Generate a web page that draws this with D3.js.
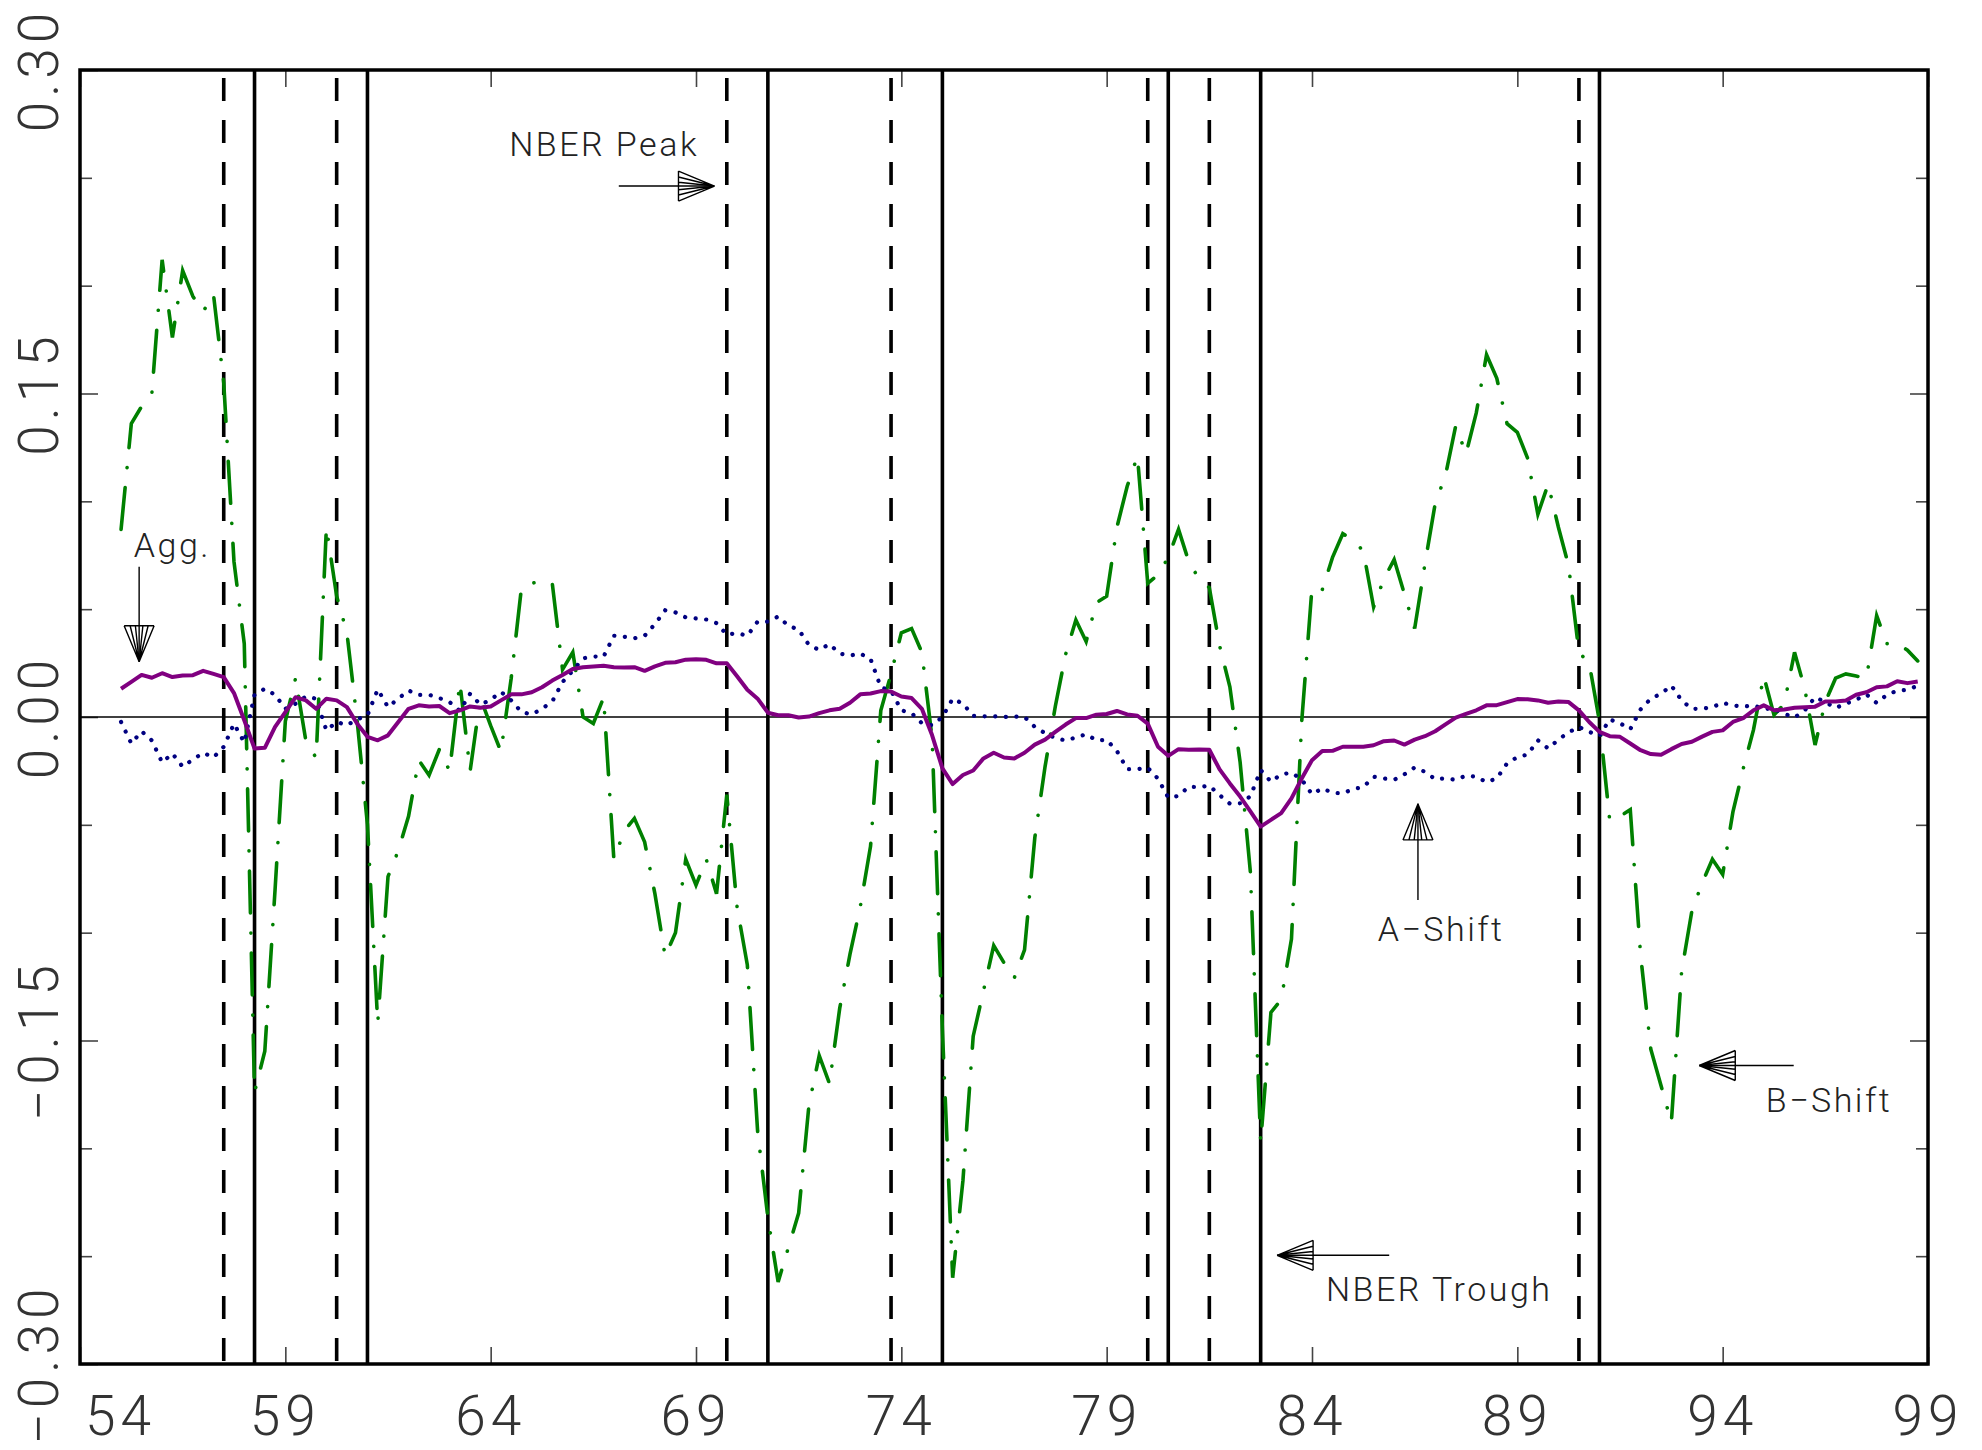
<!DOCTYPE html>
<meta charset="utf-8">
<html lang="en">

<style>
body { margin: 0; background: #fff; }

.frame {
  fill: none;
  stroke: #000;
  stroke-width: 3.5px;
}
.tick line {
  stroke: #444;
  stroke-width: 1.6px;
}
.nber {
  stroke: #000;
  stroke-width: 3.6px;
}
.peak {
  stroke-dasharray: 23 19;
  stroke-dashoffset: 34;
}
.zero {
  stroke: #000;
  stroke-width: 1.6px;
}
.agg {
  fill: none;
  stroke: #800080;
  stroke-width: 4px;
  stroke-linejoin: round;
}
.ashift {
  fill: none;
  stroke: #000080;
  stroke-width: 4.2px;
  stroke-linecap: round;
  stroke-dasharray: 0.1 10.5;
}
.bshift {
  fill: none;
  stroke: #008000;
  stroke-width: 3.6px;
  stroke-linecap: round;
  stroke-dasharray: 42 20 0.1 20;
}
.lab {
  font: 300 55px Roboto, "Liberation Sans", sans-serif;
  fill: #333;
  letter-spacing: 5px;
}
.note {
  font: 300 34px Roboto, "Liberation Sans", sans-serif;
  fill: #222;
  letter-spacing: 2.5px;
}
.arrow {
  fill: none;
  stroke: #000;
  stroke-width: 1.4px;
}
</style>
<body>
<div id="chart"></div>

<script src="https://d3js.org/d3.v7.min.js"></script>
<script>
// quarterly series, first point = 1955Q1 (x = 55.00), step 0.25
var startYear = 55;

var agg = [
  0.0131, 0.0163, 0.0195, 0.0182, 0.0203, 0.0185, 0.0192, 0.0194, 0.0214, 0.0200,
  0.0185, 0.0111, -0.0015, -0.0146, -0.0143, -0.0046, 0.0023, 0.0092, 0.0077, 0.0038,
  0.0085, 0.0077, 0.0046, -0.0031, -0.0092, -0.0108, -0.0085, -0.0023, 0.0038, 0.0054,
  0.0049, 0.0051, 0.0018, 0.0031, 0.0049, 0.0043, 0.0049, 0.0077, 0.0105, 0.0105,
  0.0115, 0.0138, 0.0169, 0.0195, 0.0223, 0.0231, 0.0234, 0.0238, 0.0231, 0.0229,
  0.0231, 0.0214, 0.0235, 0.0251, 0.0254, 0.0266, 0.0268, 0.0265, 0.0249, 0.0249,
  0.0189, 0.0126, 0.0085, 0.0020, 0.0008, 0.0008, -0.0002, 0.0002, 0.0018, 0.0031,
  0.0038, 0.0066, 0.0105, 0.0109, 0.0120, 0.0118, 0.0095, 0.0088, 0.0038, -0.0085,
  -0.0238, -0.0311, -0.0269, -0.0248, -0.0192, -0.0166, -0.0188, -0.0192, -0.0166, -0.0128,
  -0.0105, -0.0069, -0.0035, -0.0005, -0.0005, 0.0011, 0.0014, 0.0028, 0.0012, 0.0006,
  -0.0031, -0.0138, -0.0180, -0.0149, -0.0152, -0.0151, -0.0152, -0.0243, -0.0308, -0.0369,
  -0.0438, -0.0508, -0.0477, -0.0446, -0.0377, -0.0285, -0.0200, -0.0158, -0.0157, -0.0138,
  -0.0138, -0.0138, -0.0131, -0.0112, -0.0109, -0.0128, -0.0105, -0.0089, -0.0066, -0.0034,
  -0.0003, 0.0014, 0.0031, 0.0054, 0.0055, 0.0069, 0.0083, 0.0082, 0.0077, 0.0066,
  0.0072, 0.0069, 0.0031, -0.0023, -0.0069, -0.0089, -0.0092, -0.0123, -0.0154, -0.0172,
  -0.0175, -0.0149, -0.0125, -0.0115, -0.0091, -0.0069, -0.0062, -0.0023, -0.0005, 0.0031,
  0.0054, 0.0031, 0.0035, 0.0043, 0.0045, 0.0048, 0.0072, 0.0072, 0.0077, 0.0103,
  0.0115, 0.0138, 0.0142, 0.0166, 0.0157, 0.0165
];

var aShift = [
  -0.0023, -0.0123, -0.0066, -0.0109, -0.0211, -0.0169, -0.0231, -0.0197, -0.0166, -0.0188,
  -0.0138, -0.0031, -0.0118, 0.0103, 0.0131, 0.0103, 0.0038, 0.0062, 0.0095, 0.0085,
  -0.0062, -0.0023, -0.0038, -0.0011, 0.0008, 0.0128, 0.0046, 0.0085, 0.0123, 0.0102,
  0.0103, 0.0088, 0.0069, 0.0029, 0.0108, 0.0057, 0.0080, 0.0117, 0.0077, 0.0023,
  0.0012, 0.0038, 0.0072, 0.0162, 0.0215, 0.0272, 0.0280, 0.0280, 0.0377, 0.0372,
  0.0365, 0.0377, 0.0431, 0.0495, 0.0485, 0.0462, 0.0457, 0.0452, 0.0435, 0.0382,
  0.0389, 0.0377, 0.0442, 0.0442, 0.0466, 0.0423, 0.0405, 0.0334, 0.0311, 0.0338,
  0.0294, 0.0285, 0.0294, 0.0269, 0.0138, 0.0122, 0.0031, 0.0018, -0.0029, -0.0038,
  0.0000, 0.0085, 0.0062, 0.0005, 0.0003, 0.0003, 0.0000, 0.0002, 0.0000, -0.0046,
  -0.0075, -0.0097, -0.0109, -0.0095, -0.0080, -0.0108, -0.0106, -0.0158, -0.0242, -0.0242,
  -0.0235, -0.0286, -0.0374, -0.0366, -0.0323, -0.0326, -0.0318, -0.0362, -0.0402, -0.0400,
  -0.0368, -0.0246, -0.0300, -0.0266, -0.0258, -0.0290, -0.0358, -0.0331, -0.0351, -0.0354,
  -0.0334, -0.0325, -0.0277, -0.0285, -0.0291, -0.0266, -0.0234, -0.0254, -0.0288, -0.0285,
  -0.0291, -0.0272, -0.0277, -0.0302, -0.0285, -0.0215, -0.0186, -0.0174, -0.0108, -0.0146,
  -0.0105, -0.0071, -0.0046, -0.0069, -0.0088, -0.0011, -0.0029, -0.0057, 0.0035, 0.0085,
  0.0108, 0.0146, 0.0077, 0.0038, 0.0038, 0.0046, 0.0066, 0.0054, 0.0048, 0.0054,
  0.0038, 0.0038, 0.0015, -0.0002, 0.0031, 0.0092, 0.0069, 0.0042, 0.0062, 0.0080,
  0.0105, 0.0065, 0.0103, 0.0122, 0.0126, 0.0145
];

var bShift = [
  0.087, 0.136, 0.144, 0.150, 0.212, 0.176, 0.207, 0.195, 0.188, 0.196,
  0.155, 0.072, 0.034, -0.174, -0.155, -0.080, -0.002, 0.018, -0.011, -0.019,
  0.088, 0.056, 0.039, -0.002, -0.050, -0.142, -0.074, -0.062, -0.046, -0.020,
  -0.027, -0.015, -0.025, 0.016, -0.025, 0.009, -0.004, -0.016, 0.018, 0.060,
  0.062, 0.063, 0.062, 0.022, 0.030, 0.000, -0.003, 0.009, -0.066, -0.053,
  -0.047, -0.058, -0.082, -0.111, -0.100, -0.066, -0.078, -0.066, -0.082, -0.036,
  -0.088, -0.115, -0.192, -0.232, -0.262, -0.246, -0.230, -0.180, -0.157, -0.170,
  -0.135, -0.110, -0.088, -0.060, 0.003, 0.020, 0.039, 0.041, 0.030, -0.010,
  -0.145, -0.260, -0.215, -0.148, -0.127, -0.106, -0.114, -0.121, -0.108, -0.056,
  -0.023, 0.005, 0.029, 0.045, 0.035, 0.053, 0.056, 0.088, 0.107, 0.121,
  0.062, 0.066, 0.074, 0.087, 0.072, 0.064, 0.060, 0.033, 0.014, -0.021,
  -0.072, -0.197, -0.137, -0.131, -0.103, -0.002, 0.060, 0.059, 0.074, 0.085,
  0.082, 0.077, 0.051, 0.064, 0.073, 0.057, 0.041, 0.071, 0.099, 0.112,
  0.135, 0.122, 0.141, 0.168, 0.157, 0.136, 0.132, 0.120, 0.094, 0.108,
  0.088, 0.070, 0.030, 0.025, -0.002, -0.048, -0.046, -0.043, -0.110, -0.154,
  -0.171, -0.188, -0.118, -0.090, -0.077, -0.066, -0.073, -0.044, -0.024, -0.006,
  0.019, 0.001, 0.006, 0.030, 0.013, -0.013, 0.007, 0.018, 0.020, 0.019,
  0.018, 0.047, 0.034, 0.034, 0.031, 0.026
];

// NBER reference dates (quarters as decimal years)
var peaks = [57.5, 60.25, 69.75, 73.75, 80.0, 81.5, 90.5];
var troughs = [58.25, 61.0, 70.75, 75.0, 80.5, 82.75, 91.0];

var xTicks = [54, 59, 64, 69, 74, 79, 84, 89, 94, 99];
var yTicks = [-0.30, -0.15, 0.00, 0.15, 0.30];
var yMinor = [-0.25, -0.20, -0.10, -0.05, 0.05, 0.10, 0.20, 0.25];

// labels with their arrows, in data units
var notes = [
  {text: "NBER Peak",   at: [64.45, 0.260],  from: [67.12, 0.2462],  to: [69.45, 0.2462]},
  {text: "Agg.",        at: [55.31, 0.0742], from: [55.44, 0.0697],  to: [55.44, 0.0256]},
  {text: "A\u2212Shift", at: [85.60, -0.104], from: [86.58, -0.0849], to: [86.58, -0.0403]},
  {text: "B\u2212Shift", at: [95.05, -0.183], from: [95.73, -0.1616], to: [93.43, -0.1616]},
  {text: "NBER Trough", at: [84.34, -0.271], from: [85.88, -0.2496], to: [83.15, -0.2496]}
];

var width = 1982,
    height = 1450,
    margin = {top: 70, right: 54, bottom: 86, left: 80};

var x = d3.scaleLinear()
    .domain([54, 99])
    .range([margin.left, width - margin.right]);
var y = d3.scaleLinear()
    .domain([-0.30, 0.30])
    .range([height - margin.bottom, margin.top]);

var svg = d3.select("#chart").append("svg")
    .attr("width", width)
    .attr("height", height);

function quarter(i) { return startYear + i / 4; }

var line = d3.line()
    .x(function(d, i) { return x(quarter(i)); })
    .y(function(d) { return y(d); });

// ticks on all four sides, pointing inwards
function tickAxis(axis, tx, ty, size, values) {
  var g = svg.append("g")
      .attr("transform", "translate(" + tx + "," + ty + ")")
      .call(axis.tickValues(values).tickSize(-size).tickFormat(""));
  g.select(".domain").remove();
  return g;
}
tickAxis(d3.axisTop(x), 0, y(0.30), 17, xTicks);
tickAxis(d3.axisBottom(x), 0, y(-0.30), 17, xTicks);
tickAxis(d3.axisLeft(y), x(54), 0, 12, yMinor);
tickAxis(d3.axisLeft(y), x(54), 0, 18, yTicks);
tickAxis(d3.axisRight(y), x(99), 0, 12, yMinor);
tickAxis(d3.axisRight(y), x(99), 0, 18, yTicks);

// x labels
svg.selectAll(".xlab")
    .data(xTicks)
  .enter().append("text")
    .attr("class", "lab xlab")
    .attr("x", function(d, i) { return i == 0 ? x(d) + 5 : x(d); })
    .attr("y", y(-0.30) + 71)
    .attr("text-anchor", function(d, i) { return i == 0 ? "start" : "middle"; })
    .text(function(d) { return d; });

// y labels, rotated
var fmt = d3.format(".2f");
svg.selectAll(".ylab")
    .data(yTicks)
  .enter().append("text")
    .attr("class", "lab ylab")
    .attr("transform", function(d) { return "translate(58," + y(d) + ") rotate(-90)"; })
    .attr("text-anchor", "middle")
    .text(function(d) { return fmt(d); });

// NBER peaks (dashed) and troughs (solid)
svg.selectAll(".peak")
    .data(peaks)
  .enter().append("line")
    .attr("class", "nber peak")
    .attr("x1", function(d) { return x(d); })
    .attr("x2", function(d) { return x(d); })
    .attr("y1", y(0.30))
    .attr("y2", y(-0.30));
svg.selectAll(".trough")
    .data(troughs)
  .enter().append("line")
    .attr("class", "nber trough")
    .attr("x1", function(d) { return x(d); })
    .attr("x2", function(d) { return x(d); })
    .attr("y1", y(0.30))
    .attr("y2", y(-0.30));

svg.append("line")
    .attr("class", "zero")
    .attr("x1", x(54)).attr("x2", x(99))
    .attr("y1", y(0)).attr("y2", y(0));

svg.append("path").datum(bShift).attr("class", "bshift").attr("d", line);
svg.append("path").datum(aShift).attr("class", "ashift").attr("d", line);
svg.append("path").datum(agg).attr("class", "agg").attr("d", line);

svg.append("rect")
    .attr("class", "frame")
    .attr("x", x(54))
    .attr("y", y(0.30))
    .attr("width", x(99) - x(54))
    .attr("height", y(-0.30) - y(0.30));

// hatched arrow heads: a fan of strokes from the base to the tip
function arrowHead(x0, y0, x1, y1) {
  var len = 36, half = 15;
  var dx = x1 - x0, dy = y1 - y0, n = Math.sqrt(dx * dx + dy * dy);
  var ux = dx / n, uy = dy / n, px = -uy, py = ux;
  var bx = x1 - ux * len, by = y1 - uy * len;
  var p = d3.path();
  p.moveTo(bx + px * half, by + py * half);
  p.lineTo(bx - px * half, by - py * half);
  [-1, -0.6, -0.25, 0.25, 0.6, 1].forEach(function(f) {
    p.moveTo(bx + px * half * f, by + py * half * f);
    p.lineTo(x1, y1);
  });
  return p.toString();
}

notes.forEach(function(n) {
  var x0 = x(n.from[0]), y0 = y(n.from[1]),
      x1 = x(n.to[0]), y1 = y(n.to[1]);
  svg.append("line")
      .attr("class", "arrow")
      .attr("x1", x0).attr("y1", y0)
      .attr("x2", x1).attr("y2", y1);
  svg.append("path")
      .attr("class", "arrow")
      .attr("d", arrowHead(x0, y0, x1, y1));
  svg.append("text")
      .attr("class", "note")
      .attr("x", x(n.at[0]))
      .attr("y", y(n.at[1]))
      .text(n.text);
});
</script>
</body>
</html>
